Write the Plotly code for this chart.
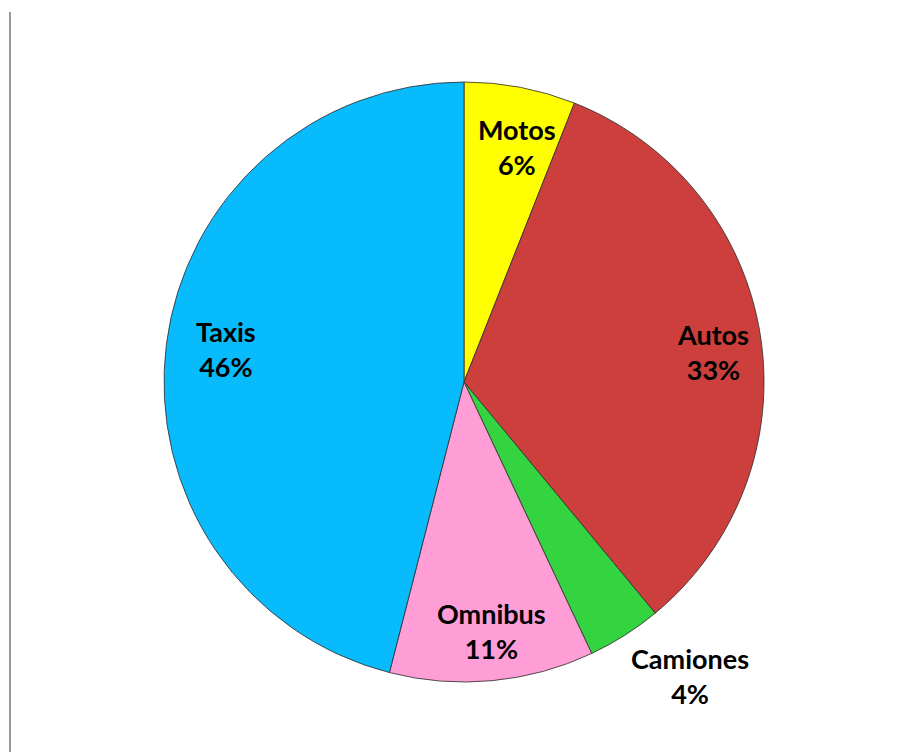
import math
import plotly.graph_objects as go

labels = ["Motos", "Autos", "Camiones", "Omnibus", "Taxis"]
values = [6, 33, 4, 11, 46]
colors = ["#FFFF00", "#CC3F3C", "#33D43F", "#FF9ED6", "#08BBFC"]

W, H = 906, 752
OFF = 8  # page body margin
cx_px, cy_px, R = 464 - OFF, 382 - OFF, 300

fig = go.Figure(go.Pie(
    labels=labels, values=values, sort=False, direction="clockwise", rotation=0,
    marker=dict(colors=colors, line=dict(color="rgba(50,50,50,0.85)", width=1)),
    textinfo="none", hoverinfo="label+percent", showlegend=False,
    domain=dict(x=[(cx_px - R) / W, (cx_px + R) / W],
                y=[1 - (cy_px + R) / H, 1 - (cy_px - R) / H]),
))

# label placement (style): radius factor and pixel shifts per slice
rfac = [0.81, 0.83, 1.22, 0.83, 0.81]
shifts = [(7, -4), (3, -9), (30, 15), (4, -1), (3, 3)]

total = sum(values)
cum = 0
annotations = []
for lab, v, rf, (sx, sy) in zip(labels, values, rfac, shifts):
    mid = (cum + v / 2) / total * 2 * math.pi
    cum += v
    px = cx_px + rf * R * math.sin(mid)
    py = cy_px - rf * R * math.cos(mid)
    annotations.append(dict(
        x=px / W, y=1 - py / H, xref="paper", yref="paper",
        xanchor="center", yanchor="middle",
        text=f"<b>{lab}</b><br><b>{round(v / total * 100)}%</b>", showarrow=False,
        xshift=sx, yshift=sy,
        font=dict(family="Lato, Open Sans, sans-serif", size=27, color="#000000"),
        align="center",
    ))

fig.update_layout(
    width=W, height=H, margin=dict(l=0, r=0, t=0, b=0),
    paper_bgcolor="white", plot_bgcolor="white",
    annotations=annotations,
    shapes=[dict(type="line", xref="paper", yref="paper",
                 x0=(10 - OFF) / W, x1=(10 - OFF) / W, y0=0, y1=1 - (12 - OFF) / H,
                 line=dict(color="#9a9a9a", width=2))],
    font=dict(family="Lato, Open Sans, sans-serif"),
)

fig.write_html("out.html")
